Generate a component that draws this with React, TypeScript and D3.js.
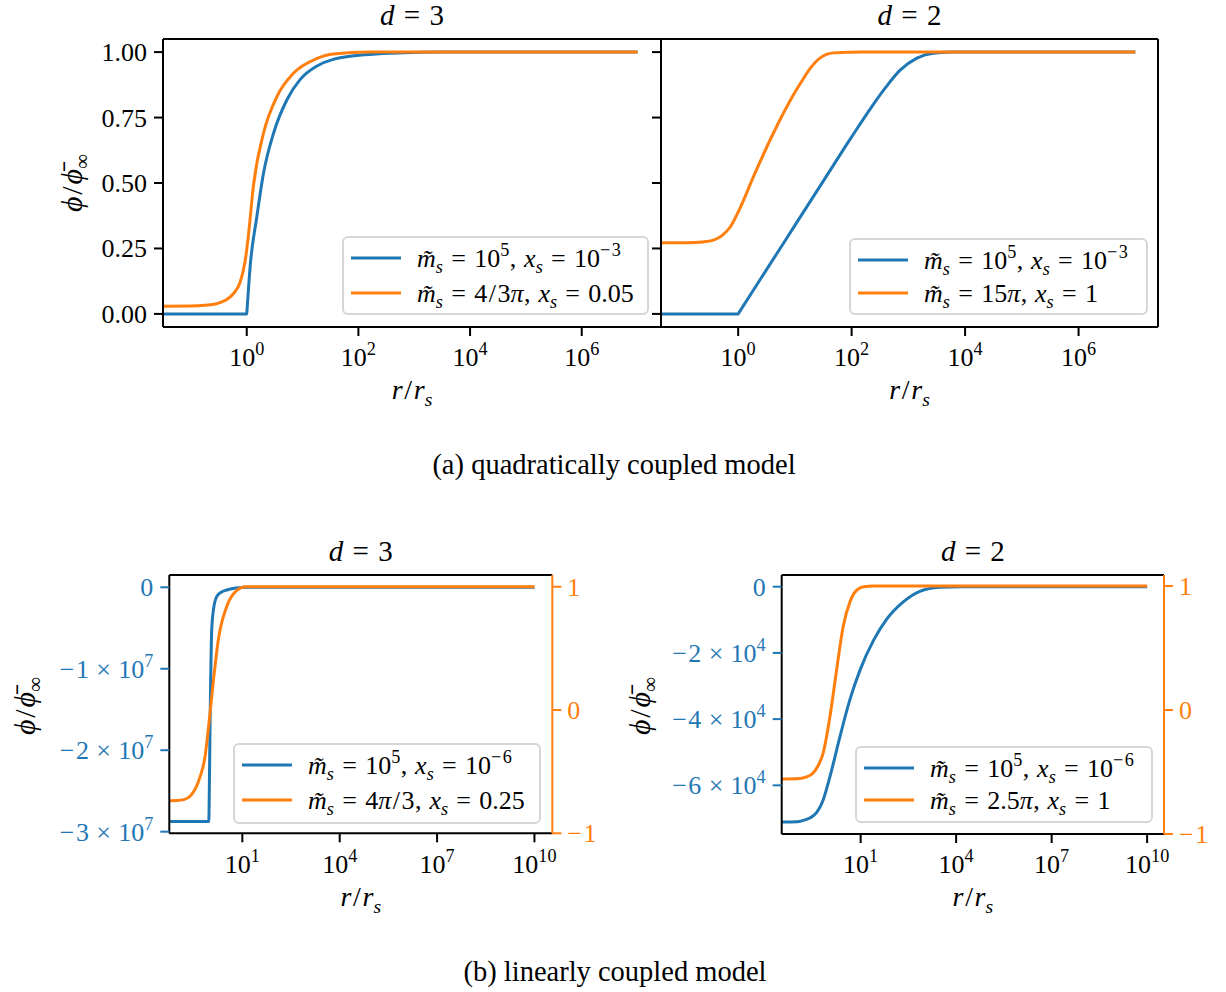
import React from 'react';
import * as d3 from 'd3';

const BLUE = '#1f77b4';
const ORANGE = '#ff7f0e';
const FONT = "'Liberation Serif', 'Times New Roman', serif";

// ---------- data (x as log10(r/r_s)) ----------
// (a) quadratically coupled, d = 3
const q3BlueLogR = [-1.5, 0, 0.006, 0.06, 0.18, 0.3, 0.48, 0.72, 0.955, 1.25, 1.85, 2.7, 3.5, 7];
const q3BlueVal = [0, 0, 0.018, 0.179, 0.37, 0.537, 0.69, 0.818, 0.895, 0.946, 0.984, 0.997, 1, 1];
const q3OrangeLogR = [-1.5, -1.0, -0.75, -0.54, -0.38, -0.24, -0.12, -0.03, 0.03, 0.12, 0.3, 0.54, 0.84, 1.25, 1.55, 2.2, 7];
const q3OrangeVal = [0.029, 0.03, 0.033, 0.039, 0.052, 0.077, 0.12, 0.2, 0.3, 0.49, 0.69, 0.83, 0.92, 0.975, 0.993, 1, 1];
// (a) quadratically coupled, d = 2
const q2BlueLogR = [-1.36, 0, 0.02, 0.5, 1.0, 1.5, 2.0, 2.35, 2.6, 2.85, 3.15, 3.44, 3.8, 7];
const q2BlueVal = [0, 0, 0.0068, 0.169, 0.338, 0.507, 0.676, 0.79, 0.865, 0.93, 0.977, 0.996, 1, 1];
const q2OrangeLogR = [-1.36, -0.9, -0.62, -0.435, -0.28, -0.14, 0.035, 0.27, 0.62, 0.97, 1.09, 1.27, 1.44, 1.68, 2.2, 7];
const q2OrangeVal = [0.272, 0.272, 0.275, 0.282, 0.3, 0.332, 0.405, 0.524, 0.69, 0.835, 0.878, 0.938, 0.977, 0.997, 1, 1];
// (b) linearly coupled, d = 3 (blue in units of 1e7 on left axis, orange on right axis)
const l3BlueLogR = [-1.25, -0.03, -0.025, 0.004, 0.057, 0.12, 0.21, 0.35, 0.52, 0.8, 1.2, 10];
const l3BlueVal = [-2.876, -2.876, -2.75, -1.75, -0.52, -0.25, -0.115, -0.06, -0.033, -0.008, 0, 0];
const l3OrangeLogR = [-1.25, -1.0, -0.8, -0.61, -0.45, -0.3, -0.15, -0.05, 0.11, 0.26, 0.52, 0.83, 1.1, 10];
const l3OrangeVal = [-0.735, -0.734, -0.727, -0.7, -0.64, -0.54, -0.38, -0.16, 0.24, 0.57, 0.84, 0.97, 1.0, 1.0];
// (b) linearly coupled, d = 2 (blue in units of 1e4)
const l2BlueLogR = [-1.48, -1.0, -0.805, -0.58, -0.38, -0.18, 0.035, 0.35, 0.66, 0.98, 1.4, 1.82, 2.34, 2.86, 3.5, 4.2, 10];
const l2BlueVal = [-7.11, -7.1, -7.06, -6.98, -6.82, -6.45, -5.74, -4.53, -3.42, -2.52, -1.63, -0.98, -0.46, -0.14, -0.02, 0, 0];
const l2OrangeLogR = [-1.48, -1.0, -0.7, -0.5, -0.35, -0.18, 0.035, 0.245, 0.45, 0.66, 0.87, 1.1, 1.4, 10];
const l2OrangeVal = [-0.556, -0.555, -0.54, -0.51, -0.455, -0.35, -0.054, 0.323, 0.672, 0.87, 0.965, 0.995, 1.0, 1.0];

// ---------- ticks & labels ----------
const quadYTicks = [0, 0.25, 0.5, 0.75, 1.0];
const quadYTickLabels = ['0.00', '0.25', '0.50', '0.75', '1.00'];
const quadXTicks = [0, 2, 4, 6];
const linXTicks = [1, 4, 7, 10];
const l3LeftTicks = [0, -1, -2, -3];
const l3LeftLabels = ['0', '−1 × 10^7', '−2 × 10^7', '−3 × 10^7'];
const l2LeftTicks = [0, -2, -4, -6];
const l2LeftLabels = ['0', '−2 × 10^4', '−4 × 10^4', '−6 × 10^4'];
const rightTicks = [-1, 0, 1];
const rightTickLabels = ['−1', '0', '1'];

const legQ3 = ['m̃_s = 10^5, x_s = 10^{−3}', 'm̃_s = 4/3π, x_s = 0.05'];
const legQ2 = ['m̃_s = 10^5, x_s = 10^{−3}', 'm̃_s = 15π, x_s = 1'];
const legL3 = ['m̃_s = 10^5, x_s = 10^{−6}', 'm̃_s = 4π/3, x_s = 0.25'];
const legL2 = ['m̃_s = 10^5, x_s = 10^{−6}', 'm̃_s = 2.5π, x_s = 1'];

const YLABEL = 'ϕ/ϕ̄_∞';
const XLABEL = 'r/r_s';

// ---------- mini math text ----------
type Part = { t: string; it: boolean; pos: 'base' | 'sub' | 'sup'; dx: number; fixed: boolean };
const PAD: Record<string, [number, number]> = {
  '=': [0.32, 0.32],
  '×': [0.28, 0.28],
  ',': [0.02, 0.3],
  '/': [0.06, 0.06],
  '−': [0, 0.06],
};
function parseMath(s: string): Part[] {
  const out: Part[] = [];
  const isLetter = (c: string) => /[a-zA-Zπϕ\u0303\u0304]/.test(c);
  let pending = 0;
  const push = (t: string, it: boolean, pos: Part['pos']) => {
    const pad = PAD[t];
    const last = out[out.length - 1];
    if (!pad && pending === 0 && last && !last.fixed && last.it === it && last.pos === pos) {
      last.t += t;
      return;
    }
    const dx = pending + (pad ? pad[0] : 0);
    out.push({ t, it, pos, dx, fixed: !!pad });
    pending = pad ? pad[1] : 0;
  };
  let i = 0;
  while (i < s.length) {
    const c = s[i];
    if (c === ' ') { i++; continue; }
    if (c === '_' || c === '^') {
      const pos = c === '_' ? 'sub' : 'sup';
      i++;
      let grp = '';
      if (s[i] === '{') {
        i++;
        while (i < s.length && s[i] !== '}') grp += s[i++];
        i++;
      } else grp = s[i++];
      for (const g of grp) push(g, isLetter(g), pos);
    } else {
      push(c, isLetter(c), 'base');
      i++;
    }
  }
  return out;
}

function MathText(props: {
  x: number; y: number; s: string; size: number; anchor?: string; fill?: string; transform?: string;
}) {
  const { x, y, s, size, anchor = 'start', fill = '#000', transform } = props;
  const parts = parseMath(s);
  let cur = 0;
  return (
    <text x={x} y={y} fontFamily={FONT} fontSize={size} textAnchor={anchor} fill={fill}
      transform={transform} style={{ whiteSpace: 'pre' }}>
      {parts.map((p, i) => {
        const target = p.pos === 'sub' ? size * 0.24 : p.pos === 'sup' ? -size * 0.42 : 0;
        const dy = target - cur;
        cur = target;
        const fs = p.pos === 'base' ? size : size * 0.7;
        return (
          <tspan key={i} dy={dy} dx={p.dx * size} fontStyle={p.it ? 'italic' : 'normal'} fontSize={fs}>
            {p.t}
          </tspan>
        );
      })}
    </text>
  );
}

// ---------- panel ----------
type Series = { logR: number[]; val: number[]; color: string; axis: 'left' | 'right' };
type PanelProps = {
  id: string;
  box: [number, number, number, number];
  xDom: [number, number];
  yDom: [number, number];
  yRDom?: [number, number];
  series: Series[];
  xTicks: number[];
  yTicks: number[];
  yTickLabels?: string[];
  yTickColor?: string;
  rTicks?: number[];
  rTickLabels?: string[];
  legend: { x: number; y: number; w: number; h: number; rows: number[]; labels: string[] };
  title: string;
  titleY: number;
  xlabelY: number;
  xTickY: number;
  ylabel?: [number, number];
};

const FS = 26;
const TICK = 9;

function Panel(p: PanelProps) {
  const [x0, x1, y0, y1] = p.box;
  const xs = d3.scaleLog().domain([10 ** p.xDom[0], 10 ** p.xDom[1]]).range([x0, x1]);
  const ys = d3.scaleLinear().domain(p.yDom).range([y1, y0]);
  const yr = p.yRDom ? d3.scaleLinear().domain(p.yRDom).range([y1, y0]) : ys;
  const mk = (s: Series) => {
    const sc = s.axis === 'left' ? ys : yr;
    const pts: [number, number][] = s.logR.map((l, i) => [xs(10 ** l), sc(s.val[i])]);
    return d3.line().curve(d3.curveMonotoneX)(pts) || '';
  };
  const cx = (x0 + x1) / 2;
  return (
    <g>
      <defs>
        <clipPath id={'clip' + p.id}>
          <rect x={x0} y={y0} width={x1 - x0} height={y1 - y0} />
        </clipPath>
      </defs>
      <g clipPath={`url(#clip${p.id})`}>
        {p.series.map((s, i) => (
          <path key={i} d={mk(s)} fill="none" stroke={s.color} strokeWidth={3} strokeLinejoin="round" />
        ))}
      </g>
      {/* spines */}
      <line x1={x0} x2={x1} y1={y0} y2={y0} stroke="#000" strokeWidth={2} />
      <line x1={x0} x2={x1} y1={y1} y2={y1} stroke="#000" strokeWidth={2} />
      <line x1={x0} x2={x0} y1={y0} y2={y1} stroke="#000" strokeWidth={2} />
      <line x1={x1} x2={x1} y1={y0} y2={y1} stroke={p.yRDom ? ORANGE : '#000'} strokeWidth={2} />
      {/* x ticks */}
      {p.xTicks.map((t) => (
        <g key={'x' + t}>
          <line x1={xs(10 ** t)} x2={xs(10 ** t)} y1={y1} y2={y1 + TICK} stroke="#000" strokeWidth={2} />
          <MathText x={xs(10 ** t)} y={p.xTickY} s={`10^{${t}}`} size={FS} anchor="middle" />
        </g>
      ))}
      {/* y ticks left */}
      {p.yTicks.map((t, i) => (
        <g key={'y' + t}>
          <line x1={x0 - TICK} x2={x0} y1={ys(t)} y2={ys(t)} stroke={p.yTickColor || '#000'} strokeWidth={2} />
          {p.yTickLabels && (
            <MathText x={x0 - TICK - 7} y={ys(t) + 9} s={p.yTickLabels[i]} size={FS} anchor="end" fill={p.yTickColor || '#000'} />
          )}
        </g>
      ))}
      {/* right ticks */}
      {p.rTicks && p.rTicks.map((t, i) => (
        <g key={'r' + t}>
          <line x1={x1} x2={x1 + TICK} y1={yr(t)} y2={yr(t)} stroke={ORANGE} strokeWidth={2} />
          <MathText x={x1 + TICK + 6} y={yr(t) + 9} s={p.rTickLabels![i]} size={FS} fill={ORANGE} />
        </g>
      ))}
      {/* legend */}
      <rect x={p.legend.x} y={p.legend.y} width={p.legend.w} height={p.legend.h} rx={5}
        fill="#fff" fillOpacity={0.8} stroke="#d6d6d6" strokeWidth={2} />
      {p.series.map((s, i) => (
        <g key={'l' + i}>
          <line x1={p.legend.x + 8} x2={p.legend.x + 58} y1={p.legend.rows[i]} y2={p.legend.rows[i]} stroke={s.color} strokeWidth={3} />
          <MathText x={p.legend.x + 74} y={p.legend.rows[i] + 9} s={p.legend.labels[i]} size={FS} />
        </g>
      ))}
      {/* title and labels */}
      <MathText x={cx} y={p.titleY} s={p.title} size={29} anchor="middle" />
      <MathText x={cx} y={p.xlabelY} s={XLABEL} size={28} anchor="middle" />
      {p.ylabel && (
        <MathText x={0} y={0} s={YLABEL} size={30} anchor="middle"
          transform={`translate(${p.ylabel[0]},${p.ylabel[1]}) rotate(-90)`} />
      )}
    </g>
  );
}

export default function App() {
  return (
    <div style={{ position: 'absolute', left: 0, top: 0 }}>
      <svg width={1226} height={992} viewBox="0 0 1226 992" style={{ display: 'block', background: '#fff' }}>
        <Panel id="a3" box={[163, 661, 39, 327]} xDom={[-1.5, 7.42]} yDom={[-0.05, 1.05]}
          series={[
            { logR: q3BlueLogR, val: q3BlueVal, color: BLUE, axis: 'left' },
            { logR: q3OrangeLogR, val: q3OrangeVal, color: ORANGE, axis: 'left' },
          ]}
          xTicks={quadXTicks} yTicks={quadYTicks} yTickLabels={quadYTickLabels}
          legend={{ x: 343, y: 237, w: 305, h: 77, rows: [258, 293], labels: legQ3 }}
          title="d = 3" titleY={25} xlabelY={399} xTickY={366} ylabel={[82, 183]} />
        <Panel id="a2" box={[661, 1158, 39, 327]} xDom={[-1.36, 7.4]} yDom={[-0.05, 1.05]}
          series={[
            { logR: q2BlueLogR, val: q2BlueVal, color: BLUE, axis: 'left' },
            { logR: q2OrangeLogR, val: q2OrangeVal, color: ORANGE, axis: 'left' },
          ]}
          xTicks={quadXTicks} yTicks={quadYTicks}
          legend={{ x: 850, y: 239, w: 297, h: 75, rows: [260, 293], labels: legQ2 }}
          title="d = 2" titleY={25} xlabelY={399} xTickY={366} />
        <Panel id="b3" box={[169.3, 552.3, 575, 833.3]} xDom={[-1.25, 10.55]} yDom={[-3.02, 0.151]} yRDom={[-1.0, 1.095]}
          series={[
            { logR: l3BlueLogR, val: l3BlueVal, color: BLUE, axis: 'left' },
            { logR: l3OrangeLogR, val: l3OrangeVal, color: ORANGE, axis: 'right' },
          ]}
          xTicks={linXTicks} yTicks={l3LeftTicks} yTickLabels={l3LeftLabels} yTickColor={BLUE}
          rTicks={rightTicks} rTickLabels={rightTickLabels}
          legend={{ x: 234, y: 744, w: 306, h: 79, rows: [765, 800], labels: legL3 }}
          title="d = 3" titleY={561} xlabelY={906} xTickY={873} ylabel={[35, 706]} />
        <Panel id="b2" box={[781.7, 1164, 575, 834]} xDom={[-1.48, 10.53]} yDom={[-7.47, 0.353]} yRDom={[-1.0, 1.089]}
          series={[
            { logR: l2BlueLogR, val: l2BlueVal, color: BLUE, axis: 'left' },
            { logR: l2OrangeLogR, val: l2OrangeVal, color: ORANGE, axis: 'right' },
          ]}
          xTicks={linXTicks} yTicks={l2LeftTicks} yTickLabels={l2LeftLabels} yTickColor={BLUE}
          rTicks={rightTicks} rTickLabels={rightTickLabels}
          legend={{ x: 856, y: 747, w: 296, h: 75, rows: [768, 800], labels: legL2 }}
          title="d = 2" titleY={561} xlabelY={906} xTickY={873} ylabel={[650, 706]} />
        <text x={614} y={474} fontFamily={FONT} fontSize={28.5} textAnchor="middle">(a) quadratically coupled model</text>
        <text x={615} y={981} fontFamily={FONT} fontSize={28.5} textAnchor="middle">(b) linearly coupled model</text>
      </svg>
    </div>
  );
}
